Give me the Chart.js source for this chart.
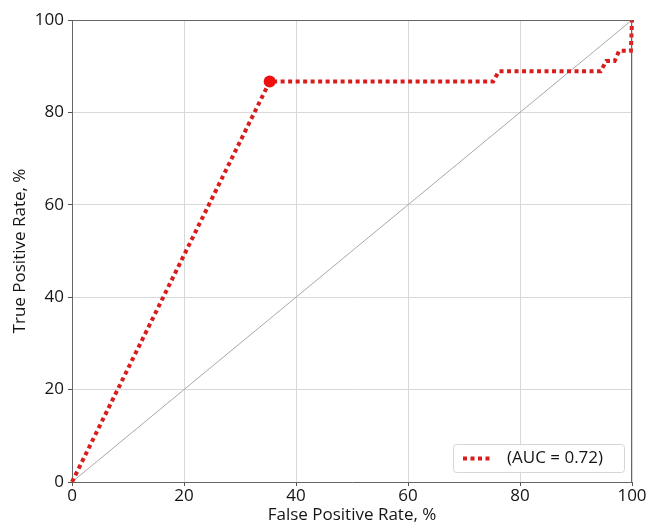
<!DOCTYPE html>
<html><head><meta charset="utf-8">
<script src="https://cdn.jsdelivr.net/npm/chart.js@4.4.1/dist/chart.umd.min.js"></script>
<style>html,body{margin:0;padding:0;background:#fff;overflow:hidden;width:648px;height:522px}#wrap{width:648px;height:534px}</style>
</head><body><div id="wrap"><canvas id="c" width="648" height="534"></canvas></div>
<script>
const fpr = [0, 35.3, 75.2, 76.2, 94.4, 95.4, 96.9, 97.7, 99.8, 100];
const tpr = [0, 86.67, 86.67, 88.89, 88.89, 91.11, 91.11, 93.33, 93.33, 100];
const opPoint = [35.3, 86.67];
const diagX = [0, 100];
const diagY = [0, 100];
const xTicks = [0, 20, 40, 60, 80, 100];
const yTicks = [0, 20, 40, 60, 80, 100];
const curveLabel = '(AUC = 0.72)';
const RED = '#d91c1c';
const FONT = 'Open Sans';
const TXT = '#151515';

const legendPlugin = {
  id: 'boxLegend',
  afterDraw(chart) {
    const ctx = chart.ctx, a = chart.chartArea;
    const w = 171, h = 28;
    const x0 = a.right - 8 - w, y0 = a.bottom - 10 - h;
    ctx.save();
    ctx.fillStyle = 'rgba(255,255,255,0.85)';
    ctx.strokeStyle = '#d6d6d6';
    ctx.lineWidth = 1;
    ctx.beginPath();
    ctx.roundRect(x0 + 0.5, y0 + 0.5, w, h, 3);
    ctx.fill(); ctx.stroke();
    const cy = y0 + h / 2 + 0.5;
    ctx.strokeStyle = RED; ctx.lineWidth = 4; ctx.setLineDash([4, 3.5]);
    ctx.beginPath(); ctx.moveTo(x0 + 10, cy); ctx.lineTo(x0 + 40, cy); ctx.stroke();
    ctx.setLineDash([]);
    ctx.fillStyle = TXT; ctx.font = '17px "' + FONT + '"';
    ctx.textBaseline = 'middle'; ctx.textAlign = 'left';
    ctx.fillText(chart.data.datasets[0].label, x0 + 54, cy);
    ctx.restore();
  }
};

new Chart(document.getElementById('c'), {
  type: 'scatter',
  data: {
    datasets: [
      { label: curveLabel, data: fpr.map((v, i) => ({x: v, y: tpr[i]})), showLine: true,
        borderColor: RED, borderWidth: 4, borderDash: [4, 3.5], pointRadius: 0, fill: false, clip: 6, order: 1 },
      { label: 'diag', data: diagX.map((v, i) => ({x: v, y: diagY[i]})), showLine: true,
        borderColor: '#a8a8a8', borderWidth: 1, pointRadius: 0, clip: 2, order: 2 },
      { label: 'op', data: [{x: opPoint[0], y: opPoint[1]}], pointRadius: 6, pointBackgroundColor: '#ee0f0f',
        pointBorderColor: '#ee0f0f', borderWidth: 0, clip: 10, order: 0 }
    ]
  },
  options: {
    responsive: false, animation: false, devicePixelRatio: 1,
    layout: { padding: { top: 20, right: 16, left: 0, bottom: 0 } },
    plugins: { legend: { display: false }, tooltip: { enabled: false } },
    scales: {
      x: { type: 'linear', min: 0, max: 100,
        afterFit(s) { s.height = 52; },
        afterBuildTicks(s) { s.ticks = xTicks.map(v => ({value: v})); },
        grid: { color: '#d9d9d9', lineWidth: 1, tickLength: 4, tickColor: '#555', drawTicks: true },
        border: { color: '#666', width: 1 },
        ticks: { color: TXT, font: { family: FONT, size: 17 }, padding: 0, maxRotation: 0 },
        title: { display: true, text: 'False Positive Rate, %', color: TXT, font: { family: FONT, size: 17 }, padding: { top: 0, bottom: 9 } } },
      y: { type: 'linear', min: 0, max: 100,
        afterFit(s) { s.width = 72; },
        afterBuildTicks(s) { s.ticks = yTicks.map(v => ({value: v})); },
        grid: { color: '#d9d9d9', lineWidth: 1, tickLength: 4, tickColor: '#555' },
        border: { color: '#666', width: 1 },
        ticks: { color: TXT, font: { family: FONT, size: 17 }, padding: 4 },
        title: { display: true, text: 'True Positive Rate, %', color: TXT, font: { family: FONT, size: 17 }, padding: { top: 10, bottom: 0 } } }
    }
  },
  plugins: [legendPlugin, {
    id: 'frame',
    afterDatasetsDraw(chart) {
      const ctx = chart.ctx, a = chart.chartArea;
      ctx.save(); ctx.strokeStyle = '#666'; ctx.lineWidth = 1;
      ctx.beginPath();
      ctx.moveTo(a.left, a.top + 0.5); ctx.lineTo(a.right, a.top + 0.5);
      ctx.moveTo(a.right - 0.5, a.top); ctx.lineTo(a.right - 0.5, a.bottom);
      ctx.stroke(); ctx.restore();
    }
  }]
});
</script></body></html>
